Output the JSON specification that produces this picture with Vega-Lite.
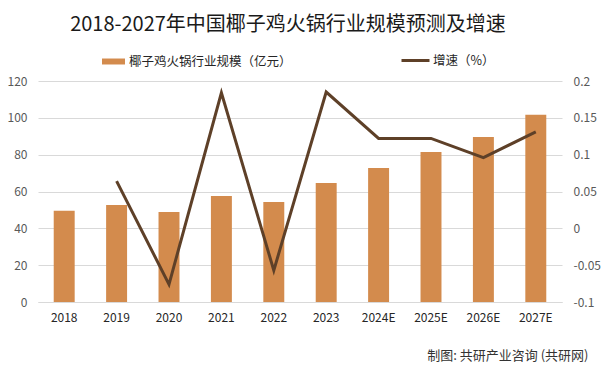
{
  "$schema": "https://vega.github.io/schema/vega-lite/v6.json",
  "width": 524,
  "height": 221,
  "autosize": {"type": "none"},
  "padding": {"left": 38, "top": 81, "right": 40, "bottom": 73},
  "background": "#ffffff",
  "config": {
    "view": {"stroke": null},
    "font": "Noto Sans CJK SC",
    "axis": {"labelFont": "Noto Sans CJK SC", "labelFontSize": 12, "labelColor": "#595959", "ticks": false, "domain": false, "gridColor": "#d9d9d9", "gridWidth": 1}
  },
  "title": {
    "text": "2018-2027年中国椰子鸡火锅行业规模预测及增速",
    "fontSize": 20,
    "fontWeight": "normal",
    "color": "#1a1a1a",
    "font": "Noto Sans CJK SC",
    "anchor": "middle",
    "dx": -12,
    "offset": 10
  },
  "data": {
    "values": [
      {"year": "2018", "scale": 49.6, "growth": null},
      {"year": "2019", "scale": 52.7, "growth": 0.064},
      {"year": "2020", "scale": 48.9, "growth": -0.076},
      {"year": "2021", "scale": 57.6, "growth": 0.184},
      {"year": "2022", "scale": 54.3, "growth": -0.057},
      {"year": "2023", "scale": 64.6, "growth": 0.185},
      {"year": "2024E", "scale": 72.8, "growth": 0.122},
      {"year": "2025E", "scale": 81.4, "growth": 0.122},
      {"year": "2026E", "scale": 89.6, "growth": 0.096},
      {"year": "2027E", "scale": 101.7, "growth": 0.131}
    ]
  },
  "encoding": {
    "x": {
      "field": "year",
      "type": "ordinal",
      "sort": null,
      "scale": {"paddingInner": 0.6, "paddingOuter": 0.3},
      "axis": {
        "labelAngle": 0,
        "labelPadding": 10,
        "labelColor": "#262626",
        "domain": true,
        "domainColor": "#d9d9d9",
        "grid": false,
        "title": "制图: 共研产业咨询 (共研网)",
        "titleX": 550,
        "titleY": 53,
        "titleAlign": "right",
        "titleAnchor": null,
        "titleBaseline": "middle",
        "titleFontSize": 13,
        "titleFontWeight": "normal",
        "titleColor": "#333333",
        "titleFont": "Noto Sans CJK SC"
      }
    }
  },
  "layer": [
    {
      "mark": {"type": "bar"},
      "encoding": {
        "y": {
          "field": "scale",
          "type": "quantitative",
          "scale": {"domain": [0, 120]},
          "axis": {"values": [0, 20, 40, 60, 80, 100, 120], "title": null, "labelPadding": 11, "grid": true}
        },
        "fill": {
          "datum": "椰子鸡火锅行业规模（亿元）",
          "scale": {"range": ["#D38B4D"]},
          "legend": {
            "orient": "none",
            "legendX": 64,
            "legendY": -31,
            "title": null,
            "symbolType": "M-1,-0.26H1V0.26H-1Z",
            "symbolSize": 529,
            "symbolStrokeWidth": 0,
            "labelOffset": 4,
            "labelLimit": 400,
            "labelFontSize": 12.5,
            "labelColor": "#262626",
            "labelFont": "Noto Sans CJK SC"
          }
        }
      }
    },
    {
      "mark": {"type": "line", "strokeWidth": 3},
      "encoding": {
        "y": {
          "field": "growth",
          "type": "quantitative",
          "scale": {"domain": [-0.1, 0.2], "nice": false, "zero": false},
          "axis": {"orient": "right", "values": [-0.1, -0.05, 0, 0.05, 0.1, 0.15, 0.2], "labelExpr": "'' + datum.value", "title": null, "labelPadding": 11, "grid": false}
        },
        "stroke": {
          "datum": "增速（%）",
          "scale": {"range": ["#5E4028"]},
          "legend": {
            "orient": "none",
            "legendX": 362,
            "legendY": -36,
            "title": null,
            "symbolType": "stroke",
            "symbolSize": 784,
            "symbolStrokeWidth": 3,
            "labelOffset": 2,
            "labelLimit": 400,
            "labelFontSize": 12.5,
            "labelColor": "#262626",
            "labelFont": "Noto Sans CJK SC"
          }
        }
      }
    }
  ],
  "resolve": {"scale": {"y": "independent"}}
}
